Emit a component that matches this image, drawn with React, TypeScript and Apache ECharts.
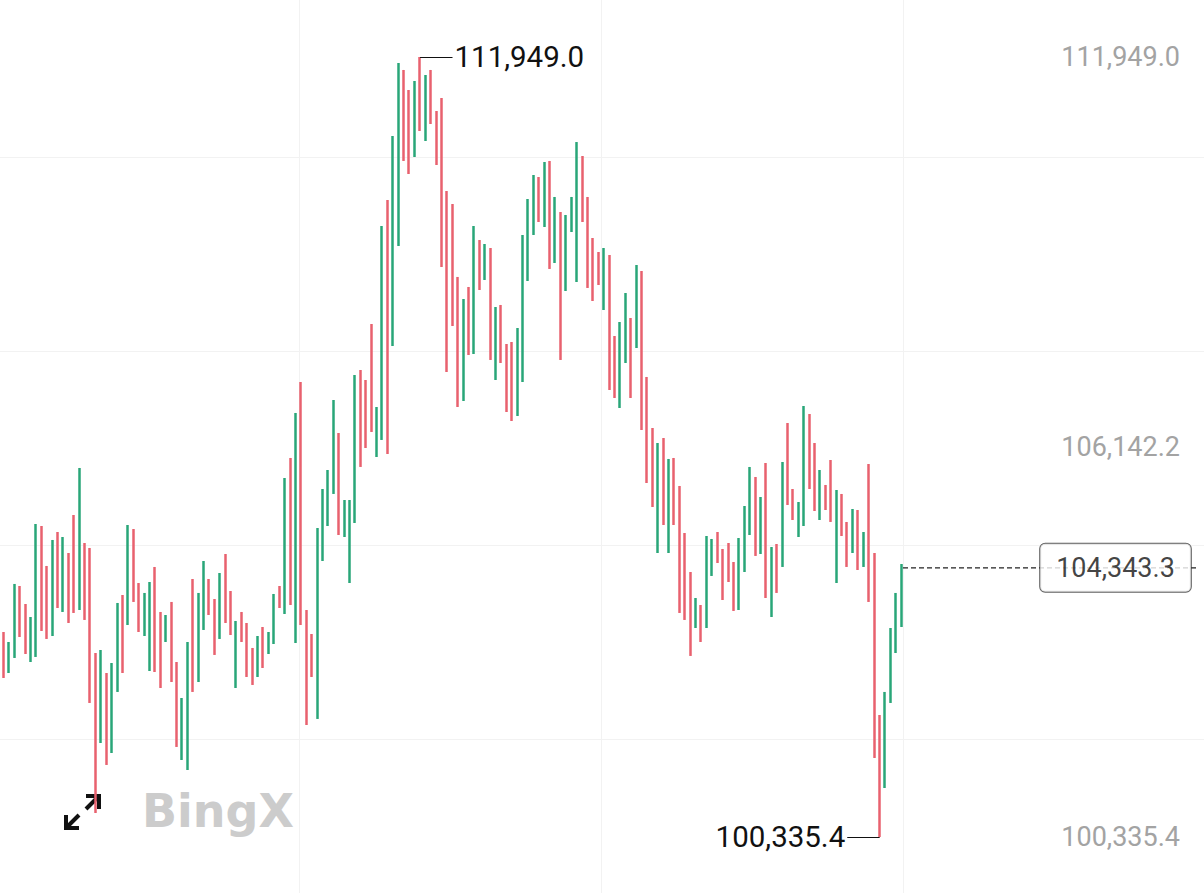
import React, { useEffect, useRef } from "react";
import * as echarts from "echarts";

const opens = [
  103313, 102822, 103194, 103998, 103388, 103135, 103552, 104907, 103522, 103358,
  104668, 103820, 104505, 105041, 103760, 104653, 103641, 102450, 101810, 102703,
  101661, 102852, 103745, 103567, 104892, 103909, 103447, 103909, 104073, 102867,
  103284, 103596, 102718, 101750, 102346, 103150, 102718, 103894, 104132, 103686,
  103343, 104207, 103581, 102614, 103492, 103284, 103105, 102763, 103284, 103090,
  103358, 103909, 103775, 105591, 103328, 106544, 103596, 103313, 102763, 104832,
  105026, 105740, 106291, 104907, 104192, 105294, 107125, 107080, 107899, 106053,
  106678, 109329, 107735, 109224, 111696, 111383, 110520, 111532, 110907, 111622,
  111011, 110401, 109880, 109686, 108018, 106887, 108286, 107572, 109180, 108674,
  109061, 107512, 108167, 107453, 107646, 106663, 107855, 109209, 109775, 110133,
  109537, 110326, 108942, 109582, 108525, 109537, 108688, 110416, 109552, 109195,
  109001, 108242, 108942, 107735, 106931, 107944, 108003, 107676, 108688, 106485,
  106366, 104639, 106127, 104624, 105904, 105041, 104802, 103626, 103492, 103745,
  103507, 104281, 104728, 104460, 104668, 104177, 103760, 104341, 104892, 105636,
  104594, 105845, 103671, 104594, 104415, 106440, 105472, 104847, 105026, 106574,
  106142, 105115, 105547, 105889, 104192, 105398, 104981, 104624, 105160, 104400,
  105830, 104505, 102078, 101140, 102390, 103135, 103522
];
const closes = [
  102777, 103194, 103998, 103388, 103135, 103552, 104907, 103522, 103358, 104668,
  103820, 104728, 103581, 103760, 105711, 103641, 102450, 100812, 103046, 101482,
  102852, 103745, 102852, 104907, 103909, 103447, 103909, 104073, 102867, 102614,
  103596, 102718, 101750, 102346, 103150, 102584, 103894, 104386, 103686, 103105,
  104207, 103581, 103403, 103492, 103284, 102777, 102643, 103284, 102897, 103358,
  103909, 103775, 105591, 103879, 106544, 103596, 102107, 102763, 104832, 105443,
  105740, 106753, 104907, 105309, 105294, 107125, 105919, 106187, 106440, 106678,
  109329, 106157, 110683, 111785, 110475, 110267, 111532, 110907, 111622, 111011,
  110401, 108897, 107348, 108018, 106812, 108286, 107572, 109358, 108525, 109120,
  107512, 108167, 107453, 106723, 106589, 107855, 109209, 109775, 110148, 109537,
  110326, 108867, 109805, 107527, 109537, 109820, 110609, 109552, 108569, 108376,
  108599, 109046, 107080, 106931, 107944, 108376, 106931, 108793, 106485, 105681,
  105309, 106127, 105041, 105904, 105041, 103745, 103626, 103090, 103849, 103284,
  104758, 104728, 104460, 103924, 104177, 103760, 104728, 105204, 105785, 104579,
  105338, 103969, 104594, 104028, 105860, 105338, 105100, 105279, 106693, 105577,
  105249, 105740, 105249, 105085, 105443, 104877, 104415, 105160, 104371, 104832,
  103909, 101631, 100440, 102435, 103388, 103909, 104343.3
];
const lows = [
  102703, 102777, 103001, 103313, 103060, 102941, 103016, 103403, 103284, 103328,
  103745, 103686, 103522, 103671, 103715, 103567, 102331, 100693, 101735, 101408,
  101586, 102495, 102777, 103492, 103835, 103388, 103328, 102807, 102792, 102554,
  103239, 102643, 101676, 101482, 101333, 102495, 102643, 103418, 103641, 103046,
  103284, 103522, 103343, 102554, 103239, 102718, 102599, 102718, 102852, 103060,
  103209, 103745, 103656, 103790, 103224, 103492, 102003, 102718, 102093, 104445,
  104966, 105443, 104832, 104802, 104117, 105011, 105845, 106127, 106366, 105993,
  106247, 106038, 107646, 109135, 110401, 110207, 110460, 110847, 110698, 110951,
  110341, 108822, 107259, 107944, 106738, 106827, 107512, 107527, 108480, 108629,
  107438, 107140, 107393, 106663, 106529, 106604, 107110, 108614, 109299, 109492,
  109418, 108793, 108882, 107438, 108465, 109343, 108599, 109492, 108510, 108316,
  108554, 108182, 106991, 106872, 106723, 107393, 106872, 107616, 106395, 105606,
  105249, 104564, 104981, 104564, 104981, 103671, 103567, 103031, 103447, 103239,
  103447, 104222, 104415, 103864, 104132, 103701, 103715, 104281, 104832, 104520,
  104549, 103894, 103611, 103969, 104356, 105279, 105055, 104802, 104966, 105517,
  105189, 105055, 105204, 105026, 104117, 104817, 104356, 104564, 104311, 104356,
  103835, 101512, 100335.4, 101065, 102331, 103075, 103462
];
const highs = [
  103388, 103239, 104103, 104073, 103805, 103611, 104996, 104966, 104371, 104758,
  104877, 104802, 104564, 105130, 105830, 104713, 104639, 103075, 103120, 102777,
  102926, 103820, 103939, 104981, 104921, 104117, 103969, 104132, 104356, 103686,
  103641, 103835, 102941, 102405, 103239, 104177, 103969, 104445, 104177, 103879,
  104266, 104549, 103998, 103552, 103686, 103522, 103150, 103328, 103462, 103388,
  103954, 104073, 105681, 105979, 106649, 107110, 103715, 103358, 104936, 105517,
  105800, 106842, 106351, 105353, 105353, 107214, 107289, 107140, 107974, 106738,
  109433, 109820, 110773, 111860, 111756, 111458, 111592, 111949, 111681, 111756,
  111145, 111339, 109954, 109760, 108674, 108346, 108525, 109433, 109224, 109165,
  109105, 108227, 108257, 107676, 107706, 107914, 109299, 109835, 110192, 110162,
  110386, 110401, 109865, 109641, 109597, 109865, 110683, 110475, 109865, 109254,
  109046, 109105, 109001, 107795, 108003, 108435, 108063, 108852, 108763, 107185,
  106425, 106202, 106276, 105964, 105979, 105562, 104862, 104281, 103894, 103790,
  104817, 104773, 104877, 104624, 104713, 104430, 104787, 105264, 105845, 105696,
  105398, 105904, 104653, 104698, 105919, 106500, 105517, 105323, 106753, 106634,
  106202, 105800, 105577, 105949, 105502, 105443, 105026, 105219, 105204, 104877,
  105889, 104564, 102152, 102495, 103447, 103969, 104400
];
const categories = opens.map((_, i) => String(i + 1));

const UP = "#29a678";
const DOWN = "#e8616e";
const FONT = "Roboto, 'Noto Sans', sans-serif";

function fmt(v: number): string {
  const s = v.toFixed(1);
  const [a, b] = s.split(".");
  return a.replace(/\B(?=(\d{3})+(?!\d))/g, ",") + "." + b;
}

export default function App() {
  const ref = useRef<HTMLDivElement>(null);
  useEffect(() => {
    const chart = echarts.init(ref.current!, undefined, { renderer: "svg" });
    const hi = Math.max(...highs);
    const lo = Math.min(...lows);
    const iHi = highs.indexOf(hi);
    const iLo = lows.indexOf(lo);
    const mid = (hi + lo) / 2;
    const last = closes[closes.length - 1];
    const upp = (hi - lo) / 780;
    const yMax = hi + 57 * upp;
    const yMin = lo - 56 * upp;
    const candleData = opens.map((o, i) => [o, closes[i], lows[i], highs[i]]);

    const hidden = { show: false };
    chart.setOption({
      animation: false,
      backgroundColor: "#ffffff",
      grid: [
        { left: 1, top: 0, width: 903, height: 893 },
        { left: 0, right: 0, top: 157, height: 582 },
        { left: 299, width: 604, top: 0, height: 893 },
        { left: 903, right: 8, top: 0, height: 893 },
      ],
      xAxis: [
        { type: "category", gridIndex: 0, data: categories, boundaryGap: true, show: false },
        { type: "value", gridIndex: 1, min: 0, max: 1, show: false },
        {
          type: "value", gridIndex: 2, min: 0, max: 2, interval: 1,
          axisLine: hidden, axisTick: hidden, axisLabel: hidden,
          splitLine: { show: true, lineStyle: { color: "#f2f2f2", width: 1 } },
        },
        { type: "value", gridIndex: 3, min: 0, max: 1, show: false },
      ],
      yAxis: [
        { type: "value", gridIndex: 0, min: yMin, max: yMax, show: false },
        {
          type: "value", gridIndex: 1, min: 0, max: 3, interval: 1,
          axisLine: hidden, axisTick: hidden, axisLabel: hidden,
          splitLine: { show: true, lineStyle: { color: "#f2f2f2", width: 1 } },
        },
        { type: "value", gridIndex: 2, min: 0, max: 1, show: false },
        {
          type: "value", gridIndex: 3, min: yMin, max: yMax, position: "right",
          axisLine: hidden, axisTick: hidden, splitLine: hidden,
          axisLabel: {
            inside: true, margin: 16, color: "#a3a3a3", fontSize: 27, fontFamily: FONT,
            customValues: [lo, mid, hi],
            padding: [0, 0, 10, 0],
            formatter: (v: number) => fmt(v),
          },
        },
      ],
      series: [
        {
          type: "candlestick",
          xAxisIndex: 0,
          yAxisIndex: 0,
          data: candleData,
          barWidth: 1,
          itemStyle: { color: UP, color0: DOWN, borderColor: UP, borderColor0: DOWN, borderWidth: 2.5 },
          markLine: {
            silent: true,
            symbol: ["none", "none"],
            lineStyle: { color: "#111", width: 1.2, type: "solid" },
            label: { show: true, position: "end", color: "#111", fontSize: 29.5, fontFamily: FONT, distance: 2 },
            data: [
              [
                { coord: [categories[iHi], hi], label: { formatter: fmt(hi) } },
                { coord: [categories[iHi + 6], hi] },
              ],
              [
                { coord: [categories[iLo], lo], label: { formatter: fmt(lo) } },
                { coord: [categories[iLo - 6], lo] },
              ],
            ],
          },
        },
        {
          type: "line",
          xAxisIndex: 3,
          yAxisIndex: 3,
          data: [[0, last], [1, last]],
          symbol: "none",
          silent: true,
          lineStyle: { color: "#222", width: 1.2, type: [5, 3] },
          z: 3,
        },
        {
          type: "scatter",
          xAxisIndex: 3,
          yAxisIndex: 3,
          data: [[0.7253, last]],
          symbolSize: 0,
          silent: true,
          z: 5,
          label: {
            show: true,
            position: "inside",
            formatter: fmt(last),
            color: "#111",
            fontSize: 27,
            fontFamily: FONT,
            backgroundColor: "#ffffff",
            borderColor: "#3a3a3a",
            borderWidth: 1,
            borderRadius: 5,
            padding: [9, 16, 9, 16],
            lineHeight: 30,
          },
        },
      ],
      graphic: [
        {
          type: "text",
          left: 142,
          top: 788,
          style: { text: "BingX", fill: "#cccccc", font: "bold 46px 'DejaVu Sans', sans-serif" },
        },
        {
          type: "group",
          children: [
            { type: "line", shape: { x1: 66, y1: 828, x2: 79, y2: 815 }, style: { stroke: "#111", lineWidth: 4 } },
            { type: "polyline", shape: { points: [[66, 815], [66, 828], [79, 828]] }, style: { stroke: "#111", lineWidth: 4, fill: "none" } },
            { type: "line", shape: { x1: 99, y1: 796, x2: 86, y2: 809 }, style: { stroke: "#111", lineWidth: 4 } },
            { type: "polyline", shape: { points: [[86, 796], [99, 796], [99, 809]] }, style: { stroke: "#111", lineWidth: 4, fill: "none" } },
          ],
        },
      ],
    });
    return () => chart.dispose();
  }, []);
  return <div ref={ref} style={{ position: "absolute", left: 0, top: 0, width: 1204, height: 893 }} />;
}
